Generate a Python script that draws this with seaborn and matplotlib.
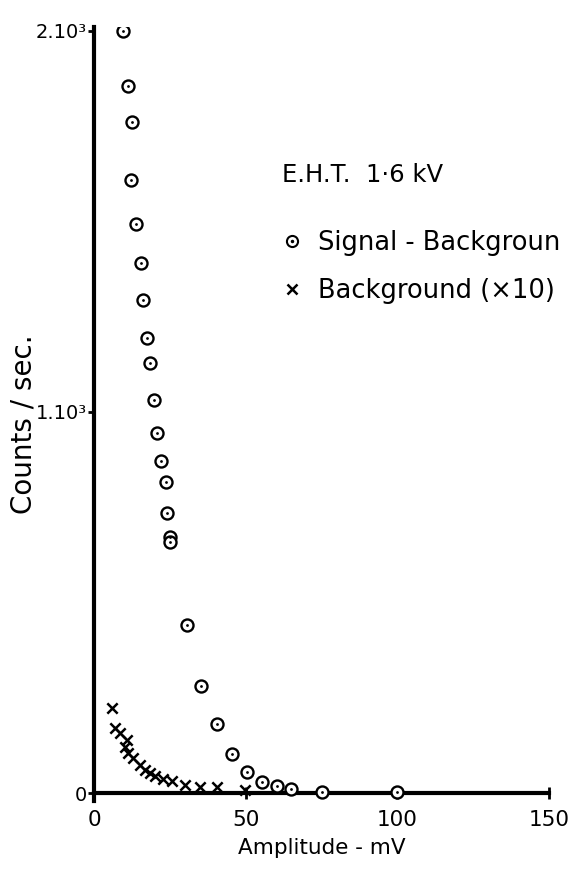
import matplotlib
matplotlib.use("Agg")
import matplotlib.pyplot as plt
import seaborn as sns
import pandas as pd
from matplotlib.lines import Line2D
from matplotlib.legend_handler import HandlerTuple

# ---- data ----
signal_mv = [9.7, 11.1, 12.4, 12.1, 13.9, 15.5, 16.3, 17.4, 18.5, 19.8, 20.9, 22.0,
             23.8, 24.2, 25.1, 25.1, 30.6, 35.2, 40.7, 45.5, 50.4, 55.4, 60.3, 65, 75, 100]
signal_counts = [2000, 1855, 1760, 1610, 1493, 1392, 1294, 1193, 1128, 1031, 944, 872,
                 817, 734, 673, 659, 441, 281, 180, 102, 54, 28, 18, 10, 3, 2]

bg_mv = [5.8, 6.9, 8.6, 10.8, 10.2, 11.3, 13.0, 15.2, 16.8, 18.5, 20.1, 22.9, 25.6,
         30.0, 35.0, 40.5, 49.8]
bg_counts = [222, 170, 157, 139, 121, 104, 91, 73, 60, 52, 45, 36, 32, 21, 15, 15, 8]

x_ticks = [0, 50, 100, 150]
y_ticks = [0, 1000, 2000]
y_tick_labels = ["0", "1.10³", "2.10³"]

sig = pd.DataFrame({"mv": signal_mv, "counts": signal_counts})
bg = pd.DataFrame({"mv": bg_mv, "counts": bg_counts})

sns.set_theme(style="ticks")
plt.rcParams["font.family"] = ["DejaVu Sans"]
plt.rcParams["text.color"] = "black"
plt.rcParams["axes.labelcolor"] = "black"

fig = plt.figure(figsize=(5.72, 8.80), dpi=100)
ax = fig.add_axes([94 / 572, 0.0902, 455 / 572, 0.879])

sns.scatterplot(data=sig, x="mv", y="counts", ax=ax, marker="o", s=75,
                facecolor="white", edgecolor="black", linewidth=1.7, zorder=3)
sns.scatterplot(data=sig, x="mv", y="counts", ax=ax, marker="o", s=4,
                color="black", edgecolor="black", linewidth=0, zorder=4)
sns.scatterplot(data=bg, x="mv", y="counts", ax=ax, marker="x", s=55,
                color="black", linewidth=1.8, zorder=3)

ax.set_xlim(0, 150)
ax.set_ylim(-20, 2010)
ax.spines["bottom"].set_position(("data", 0))
for s in ["top", "right"]:
    ax.spines[s].set_visible(False)
for s in ["left", "bottom"]:
    ax.spines[s].set_linewidth(3)
    ax.spines[s].set_color("black")

ax.set_xticks(x_ticks)
ax.set_yticks(y_ticks)
ax.set_yticklabels(y_tick_labels)
ax.tick_params(axis="x", direction="inout", length=9, width=2, labelsize=15.5, pad=8, colors="black")
ax.tick_params(axis="y", direction="out", length=4, width=2, labelsize=14, pad=1, colors="black")

ax.set_xlabel("Amplitude - mV", fontsize=15.5, color="black")
ax.set_ylabel("Counts / sec.", fontsize=20, color="black")
ax.xaxis.set_label_coords(0.5, -0.048)
ax.yaxis.set_label_coords(-0.125, 0.487)

fig.text(282 / 572, 1 - 175 / 880, "E.H.T.  1·6 kV", fontsize=17.5, va="center", ha="left")

handles = [
    (Line2D([], [], marker="o", linestyle="none", markersize=8, markerfacecolor="white",
            markeredgecolor="black", markeredgewidth=1.5),
     Line2D([], [], marker="o", linestyle="none", markersize=1.5, color="black")),
    Line2D([], [], marker="x", linestyle="none", markersize=7, color="black", markeredgewidth=1.8),
]
leg = fig.legend(handles=handles, labels=["Signal - Backgroun", "Background (×10)"],
                 handler_map={tuple: HandlerTuple(ndivide=1, pad=0)},
                 loc="upper left", bbox_to_anchor=(282 / 572, 1 - 230 / 880),
                 frameon=False, fontsize=18.5, handlelength=0.8, handletextpad=0.6,
                 labelspacing=0.85, borderaxespad=0, borderpad=0)

fig.savefig("out.png", dpi=100)
